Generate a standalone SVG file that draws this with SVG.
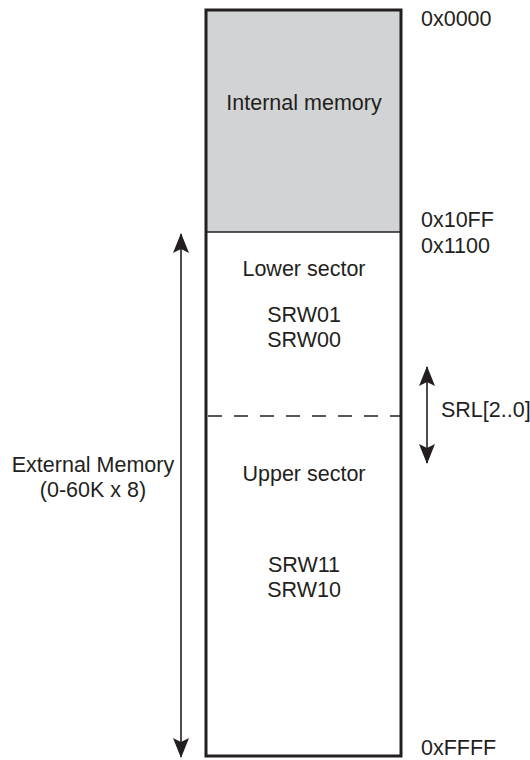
<svg xmlns="http://www.w3.org/2000/svg" width="530" height="760" viewBox="0 0 530 760">
<style>
text{font-family:"Liberation Sans",Arial,sans-serif;font-size:21.5px;fill:#231f20}
.c{text-anchor:middle}
.ln{stroke:#231f20;stroke-width:1.6;fill:none}
</style>
<defs>
<marker id="ah" viewBox="0 0 20 16" refX="19" refY="8" markerUnits="userSpaceOnUse" markerWidth="20" markerHeight="16" orient="auto-start-reverse">
<path d="M0,0 L20,8 L0,16 L4,8 Z" fill="#231f20"/>
</marker>
</defs>
<g id="internal">
<rect x="206" y="10" width="195" height="222" fill="#d1d3d4"/>
<text class="c" x="304" y="110">Internal memory</text>
</g>
<g id="lower">
<text class="c" x="304" y="276">Lower sector</text>
<text class="c" x="304" y="322">SRW01</text>
<text class="c" x="304" y="347">SRW00</text>
</g>
<g id="upper">
<text class="c" x="304" y="481">Upper sector</text>
<text class="c" x="304" y="572">SRW11</text>
<text class="c" x="304" y="597">SRW10</text>
</g>
<g id="frame">
<line class="ln" x1="206" y1="232" x2="401" y2="232"/>
<line class="ln" x1="208" y1="416" x2="400" y2="416" stroke-dasharray="14,12"/>
<rect x="206" y="10" width="195" height="746" fill="none" stroke="#231f20" stroke-width="3"/>
</g>
<g id="labels">
<text x="421" y="26">0x0000</text>
<text x="421" y="227">0x10FF</text>
<text x="421" y="253">0x1100</text>
<text x="421" y="755">0xFFFF</text>
<text x="441" y="417">SRL[2..0]</text>
<text class="c" x="93" y="472">External Memory</text>
<text class="c" x="93" y="497">(0-60K x 8)</text>
</g>
<g id="connectors">
<line class="ln" x1="181" y1="234" x2="181" y2="757" marker-start="url(#ah)" marker-end="url(#ah)"/>
<line class="ln" x1="427" y1="367" x2="427" y2="463" marker-start="url(#ah)" marker-end="url(#ah)"/>
</g>
</svg>
